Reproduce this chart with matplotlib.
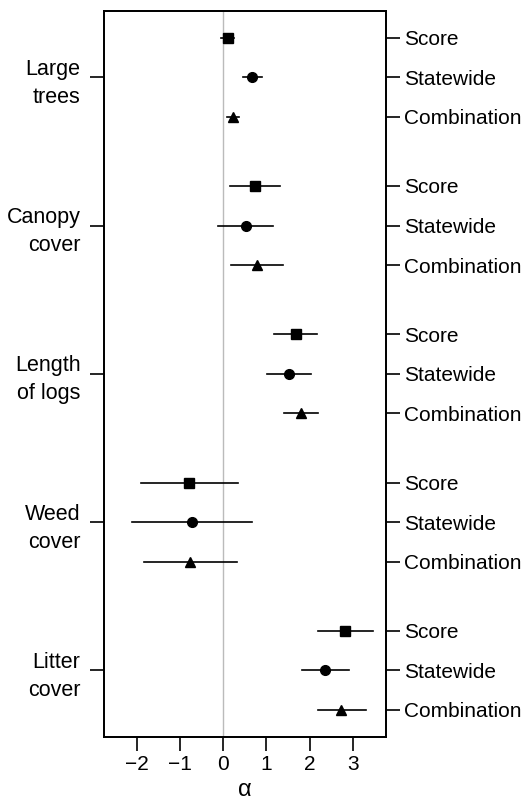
import numpy as np
import matplotlib
matplotlib.use('Agg')
import matplotlib.pyplot as plt

plt.rcParams['font.family'] = ['Liberation Sans', 'DejaVu Sans']

# --- data ------------------------------------------------------------------
groups = ['Large\ntrees', 'Canopy\ncover', 'Length\nof logs', 'Weed\ncover', 'Litter\ncover']
methods = ['Score', 'Statewide', 'Combination']
markers = ['s', 'o', '^']

# point estimates, rows = groups, cols = methods
est = np.array([
    [0.10, 0.67, 0.22],
    [0.73, 0.52, 0.78],
    [1.67, 1.52, 1.79],
    [-0.78, -0.72, -0.76],
    [2.82, 2.36, 2.72],
])
lower = np.array([
    [-0.04, 0.45, 0.09],
    [0.16, -0.13, 0.19],
    [1.18, 1.02, 1.41],
    [-1.90, -2.11, -1.83],
    [2.19, 1.82, 2.18],
])
upper = np.array([
    [0.25, 0.90, 0.36],
    [1.32, 1.16, 1.37],
    [2.17, 2.02, 2.19],
    [0.34, 0.66, 0.32],
    [3.46, 2.90, 3.29],
])
xticks = [-2, -1, 0, 1, 2, 3]

# --- layout --------------------------------------------------------------
group_step = 3.75
ypos = np.array([[g * group_step + i for i in range(len(methods))] for g in range(len(groups))])

fig = plt.figure(figsize=(5.26, 8), dpi=100)
ax = fig.add_axes([0.198, 0.079, 0.535, 0.9075])

ax.axvline(0, color='#bbbbbb', lw=1, zorder=0)

msize = {'s': 6.5, 'o': 7, '^': 7.5}
for g in range(len(groups)):
    for m in range(len(methods)):
        y = ypos[g, m]
        ax.plot([lower[g, m], upper[g, m]], [y, y], color='black', lw=1.2)
        ax.plot(est[g, m], y, marker=markers[m], color='black', ms=msize[markers[m]], lw=0)

ax.set_xlim(-2.75, 3.75)
ax.set_ylim(ypos.max() + 0.68, -0.68)

ax.set_xticks(xticks)
ax.set_xticklabels(['\u2212' + str(abs(t)) if t < 0 else str(t) for t in xticks])
ax.tick_params(axis='x', length=10, width=1.2, labelsize=15, pad=3)
ax.set_xlabel('\u03b1', fontsize=17, labelpad=4)

# left: group names at middle item
ax.set_yticks(ypos[:, 1])
ax.set_yticklabels(groups, ha='right', multialignment='right', linespacing=1.45)
ax.tick_params(axis='y', length=10, width=1.2, labelsize=15.5, pad=7)

# right: method names per row
ax2 = ax.twinx()
ax2.set_ylim(ax.get_ylim())
ax2.set_yticks(ypos.ravel())
ax2.set_yticklabels(methods * len(groups))
ax2.tick_params(axis='y', length=10, width=1.2, labelsize=15, pad=3)

for a in (ax, ax2):
    for s in a.spines.values():
        s.set_linewidth(1.3)

fig.savefig('out.png', dpi=100)
